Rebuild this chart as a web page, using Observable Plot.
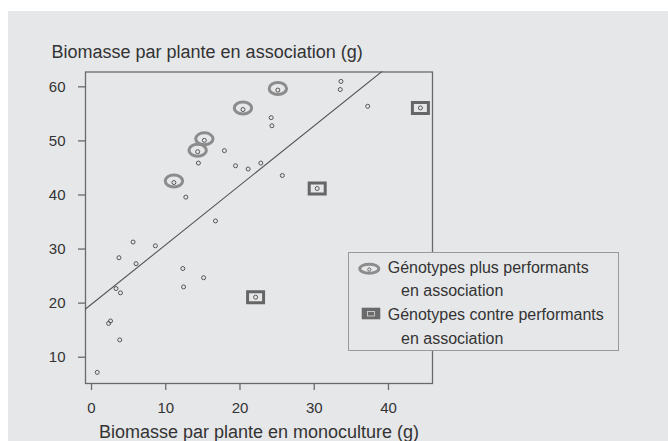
<!DOCTYPE html>
<html>
<head>
<meta charset="utf-8">
<script src="https://cdn.jsdelivr.net/npm/d3@7"></script>
<script src="https://cdn.jsdelivr.net/npm/@observablehq/plot@0.6"></script>
<style>
  html, body { margin: 0; padding: 0; background: #ffffff; }
  #wrap { position: relative; width: 668px; height: 441px; overflow: hidden; font-family: "Liberation Sans", Arial, sans-serif; }
  #panel { position: absolute; left: 8px; top: 11px; right: 0; bottom: 0; background: #e6e7e9; }
  #chart { position: absolute; left: 0; top: 42px; }
  #chart g[aria-label="y-axis label"] text, #chart g[aria-label="x-axis label"] text { font-size: 18px; }
  #legend { position: absolute; left: 348px; top: 252px; width: 269px; height: 97px; border: 1px solid #9a9a9a; background: #e6e7e9; color: #333; font-size: 16px; }
  #legend .l { position: absolute; white-space: nowrap; line-height: 20px; }
  #legend svg { position: absolute; left: 0; top: 0; }
</style>
</head>
<body>
<div id="wrap">
  <div id="panel"></div>
  <div id="chart"></div>
  <div id="legend"></div>
</div>
<script>
// Biomasse par plante en monoculture (g)
const monoculture = [25.1, 20.4, 24.2, 24.3, 15.2, 14.3, 17.9, 14.4, 19.4, 21.1, 22.8, 11.1, 12.7,
  33.6, 33.5, 37.2, 44.3, 25.7, 30.4, 16.7, 5.6, 8.6, 3.7, 6.0, 12.3, 15.1, 12.4, 3.3, 3.9,
  22.1, 2.56, 2.3, 3.8, 0.77];
// Biomasse par plante en association (g)
const association = [59.4, 55.8, 54.3, 52.8, 50.1, 48.0, 48.2, 45.9, 45.4, 44.8, 45.9, 42.3, 39.6,
  61.0, 59.5, 56.4, 56.1, 43.6, 41.2, 35.2, 31.3, 30.6, 28.4, 27.3, 26.4, 24.7, 23.0, 22.7, 21.9,
  21.1, 16.7, 16.25, 13.2, 7.2];
// groupe : "plus" = plus performants en association, "contre" = contre performants, "" = autres
const groupe = ["plus", "plus", "", "", "plus", "plus", "", "", "", "", "", "plus", "",
  "", "", "", "contre", "", "contre", "", "", "", "", "", "", "", "", "", "",
  "contre", "", "", "", ""];
const xTicks = [0, 10, 20, 30, 40];
const yTicks = [10, 20, 30, 40, 50, 60];
const xDomain = [-0.81, 45.93];
const yDomain = [5.14, 62.74];
// droite de régression
const regIntercept = 19.8;
const regSlope = 1.10;
const legendLabels = ["Génotypes plus performants", "en association", "Génotypes contre performants", "en association"];

const data = monoculture.map((x, i) => ({x, y: association[i], g: groupe[i]}));
const regLine = xDomain.map(x => ({x, y: regIntercept + regSlope * x}));

const ellipseSymbol = {
  draw(ctx) {
    const rx = 8.7, ry = 6, k = 0.5523;
    ctx.moveTo(rx, 0);
    ctx.bezierCurveTo(rx, ry * k, rx * k, ry, 0, ry);
    ctx.bezierCurveTo(-rx * k, ry, -rx, ry * k, -rx, 0);
    ctx.bezierCurveTo(-rx, -ry * k, -rx * k, -ry, 0, -ry);
    ctx.bezierCurveTo(rx * k, -ry, rx, -ry * k, rx, 0);
    ctx.closePath();
  }
};
const rectSymbol = {
  draw(ctx) {
    const w = 16, h = 11;
    ctx.rect(-w / 2, -h / 2, w, h);
  }
};

const chart = Plot.plot({
  width: 668,
  height: 399,
  marginLeft: 85,
  marginRight: 236,
  marginTop: 29.5,
  marginBottom: 58,
  x: {domain: xDomain},
  y: {domain: yDomain},
  style: {background: "transparent", fontFamily: "'Liberation Sans', Arial, sans-serif", fontSize: "15px", color: "#333", overflow: "visible"},
  marks: [
    Plot.frame({stroke: "#6a6a6a", strokeWidth: 1.3}),
    Plot.axisX({ticks: xTicks, tickSize: 7, tickPadding: 12, stroke: "#6a6a6a", strokeWidth: 1.3,
      label: "Biomasse par plante en monoculture (g)", labelAnchor: "center", labelOffset: 54, labelArrow: "none"}),
    Plot.axisY({ticks: yTicks, tickSize: 7, tickPadding: 13, stroke: "#6a6a6a", strokeWidth: 1.3,
      label: "Biomasse par plante en association (g)", labelAnchor: "top", labelOffset: 34, labelArrow: "none"}),
    Plot.line(regLine, {x: "x", y: "y", stroke: "#555", strokeWidth: 1.1, clip: true}),
    Plot.dot(data.filter(d => d.g === "plus"), {x: "x", y: "y", symbol: ellipseSymbol, r: 5, stroke: "#8c8c8c", strokeWidth: 3, fill: "none", dy: -1.5}),
    Plot.dot(data.filter(d => d.g === "contre"), {x: "x", y: "y", symbol: rectSymbol, r: 5, stroke: "#666", strokeWidth: 3, fill: "none"}),
    Plot.dot(data, {x: "x", y: "y", r: 2, stroke: "#555", strokeWidth: 1, fill: "none"})
  ]
});
document.getElementById("chart").appendChild(chart);

// légende
const legend = document.getElementById("legend");
legend.innerHTML = `
<svg width="60" height="97">
  <ellipse cx="20.3" cy="15.7" rx="9.5" ry="4.5" fill="none" stroke="#8c8c8c" stroke-width="3"></ellipse>
  <circle cx="20.3" cy="16.5" r="1.6" fill="none" stroke="#666" stroke-width="1"></circle>
  <rect x="12.7" y="54.7" width="18.6" height="11.6" fill="#6a6a6a"></rect>
  <rect x="18.5" y="58.5" width="7" height="4.5" fill="none" stroke="#ddd" stroke-width="0.8"></rect>
</svg>`;
const pos = [[38.7, 4.7], [52, 28], [38.7, 52], [52, 75.5]];
legendLabels.forEach((t, i) => {
  const s = document.createElement("div");
  s.className = "l";
  s.style.left = pos[i][0] + "px";
  s.style.top = pos[i][1] + "px";
  s.textContent = t;
  legend.appendChild(s);
});
</script>
</body>
</html>
